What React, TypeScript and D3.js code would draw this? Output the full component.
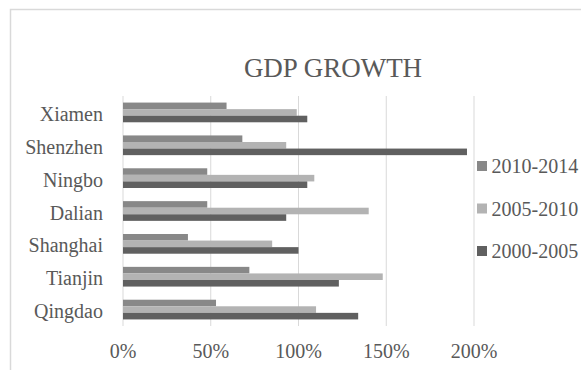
import React from "react";
import * as d3 from "d3";

const categories = ["Xiamen", "Shenzhen", "Ningbo", "Dalian", "Shanghai", "Tianjin", "Qingdao"];
const seriesNames = ["2010-2014", "2005-2010", "2000-2005"];
const s2010_2014 = [59, 68, 48, 48, 37, 72, 53];
const s2005_2010 = [99, 93, 109, 140, 85, 148, 110];
const s2000_2005 = [105, 196, 105, 93, 100, 123, 134];
const tickValues = [0, 50, 100, 150, 200];
const colors = ["#888888", "#B3B3B3", "#606060"];

const seriesValues = [s2010_2014, s2005_2010, s2000_2005];

export default function App() {
  const W = 581, H = 370;
  const x = d3.scaleLinear().domain([0, 200]).range([123, 474]);
  const y0 = d3.scaleBand<string>().domain(categories).range([96, 326]).paddingInner(0.4).paddingOuter(0.2);
  const y1 = d3.scaleBand<string>().domain(seriesNames).range([0, y0.bandwidth()]);
  const font = "Liberation Serif, DejaVu Serif, serif";
  const textColor = "#595959";
  const legendY = d3.scalePoint<string>().domain(seriesNames).range([166, 251]);
  const ts = { fontFamily: font };

  return (
    <svg width={W} height={H} style={{ position: "absolute", left: 0, top: 0, background: "#fff" }}>
      <rect x={0} y={0} width={W} height={H} fill="#fff" />
      <rect x={10.5} y={9.5} width={W + 20} height={H + 20} fill="none" stroke="#D9D9D9" strokeWidth={1.5} />
      <text x={333} y={77} textAnchor="middle" fontSize={27} fill={textColor} style={ts}>GDP GROWTH</text>
      {tickValues.map((t) => (
        <g key={t}>
          <line x1={x(t)} x2={x(t)} y1={96} y2={326} stroke="#D9D9D9" strokeWidth={1} />
          <text x={x(t)} y={358} textAnchor="middle" fontSize={20} fill={textColor} style={ts}>{t + "%"}</text>
        </g>
      ))}
      {categories.map((c, ci) => (
        <g key={c}>
          <text x={103} y={(y0(c) as number) + y0.bandwidth() / 2 + 8.5} textAnchor="end" fontSize={20} fill={textColor} style={ts}>{c}</text>
          {seriesNames.map((s, si) => (
            <rect
              key={s}
              x={x(0)}
              y={(y0(c) as number) + (y1(s) as number)}
              width={x(seriesValues[si][ci]) - x(0)}
              height={y1.bandwidth()}
              fill={colors[si]}
            />
          ))}
        </g>
      ))}
      {seriesNames.map((s, si) => (
        <g key={s}>
          <rect x={477} y={(legendY(s) as number) - 5} width={10} height={10} fill={colors[si]} />
          <text x={491.5} y={(legendY(s) as number) + 7} fontSize={20} fill={textColor} style={ts}>{s}</text>
        </g>
      ))}
    </svg>
  );
}
